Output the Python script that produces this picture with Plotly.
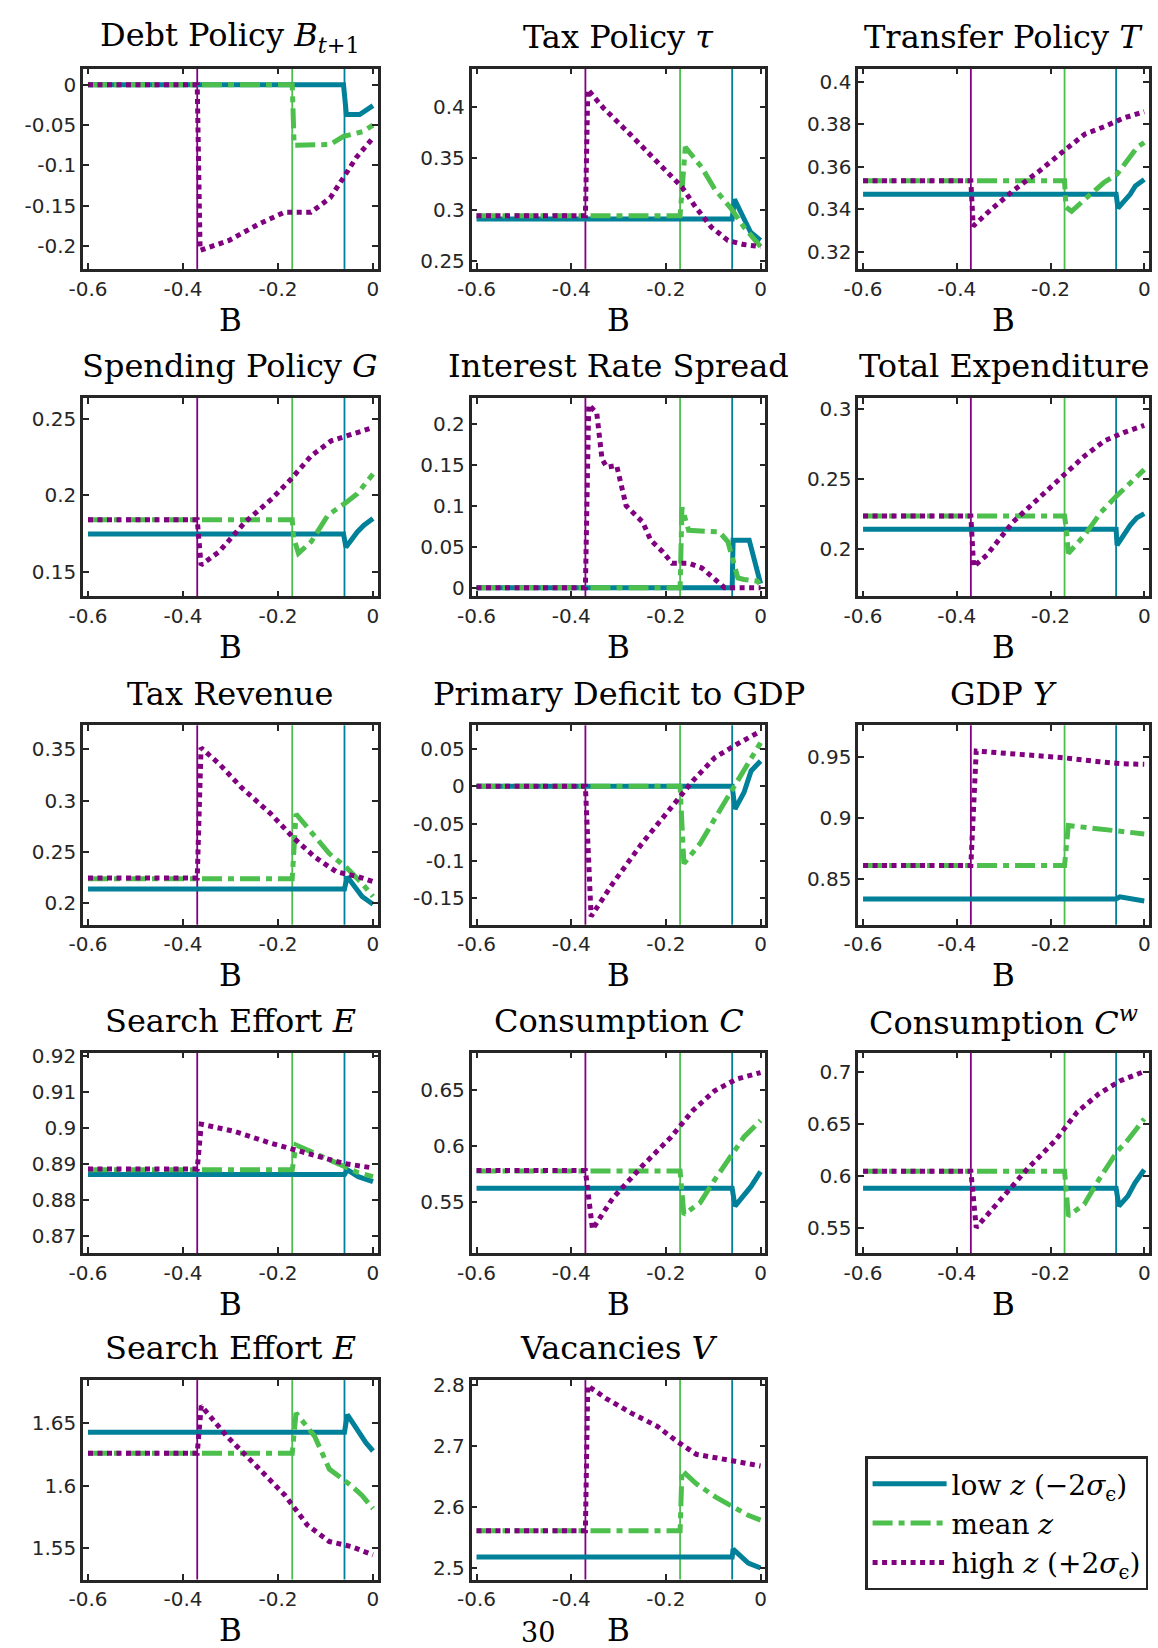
import plotly.graph_objects as go

# ---------------- data ----------------
thresholds = [-0.06, -0.17, -0.37]          # low z, mean z, high z default thresholds

titles = ["Debt Policy <i>B</i><sub><i>t</i>+1</sub>", "Tax Policy <i>τ</i>", "Transfer Policy <i>T</i>",
          "Spending Policy <i>G</i>", "Interest Rate Spread", "Total Expenditure",
          "Tax Revenue", "Primary Deficit to GDP", "GDP <i>Y</i>",
          "Search Effort <i>E</i>", "Consumption <i>C</i>", "Consumption <i>C</i><sup><i>w</i></sup>",
          "Search Effort <i>E</i>", "Vacancies <i>V</i>"]

x_ticks = [-0.6, -0.4, -0.2, 0.0]

# 1 Debt policy
debt_low_B = [-0.6, -0.062, -0.056, -0.028, 0.0]
debt_low = [0, 0, -0.037, -0.037, -0.026]
debt_mean_B = [-0.6, -0.17, -0.166, -0.09, -0.062, -0.021, 0.0]
debt_mean = [0, 0, -0.075, -0.074, -0.064, -0.058, -0.05]
debt_high_B = [-0.6, -0.37, -0.364, -0.304, -0.242, -0.187, -0.131, -0.09, -0.062, -0.035, 0.0]
debt_high = [0, 0, -0.205, -0.193, -0.173, -0.158, -0.158, -0.14, -0.115, -0.09, -0.066]
# 2 Tax policy
tax_low_B = [-0.6, -0.06, -0.055, -0.021, 0.0]
tax_low = [0.291, 0.291, 0.31, 0.278, 0.27]
tax_mean_B = [-0.6, -0.17, -0.159, -0.124, -0.097, -0.062, -0.035, 0.0]
tax_mean = [0.294, 0.294, 0.361, 0.341, 0.32, 0.301, 0.283, 0.264]
tax_high_B = [-0.6, -0.37, -0.365, -0.332, -0.277, -0.221, -0.166, -0.138, -0.104, -0.069, -0.035, 0.0]
tax_high = [0.294, 0.294, 0.417, 0.399, 0.374, 0.348, 0.322, 0.303, 0.283, 0.27, 0.266, 0.264]
# 3 Transfer policy
tr_low_B = [-0.6, -0.06, -0.056, -0.03, -0.019, 0.0]
tr_low = [0.347, 0.347, 0.3405, 0.347, 0.351, 0.354]
tr_mean_B = [-0.6, -0.17, -0.167, -0.155, -0.12, -0.086, -0.058, -0.037, -0.016, 0.0]
tr_mean = [0.3534, 0.3534, 0.341, 0.339, 0.346, 0.3526, 0.3565, 0.3628, 0.369, 0.3715]
tr_high_B = [-0.6, -0.37, -0.365, -0.336, -0.28, -0.224, -0.169, -0.127, -0.085, -0.044, 0.0]
tr_high = [0.3534, 0.3534, 0.332, 0.338, 0.3487, 0.358, 0.368, 0.3754, 0.379, 0.383, 0.386]
# 4 Spending policy
sp_low_B = [-0.6, -0.062, -0.057, -0.033, -0.019, 0.0]
sp_low = [0.1746, 0.1746, 0.166, 0.176, 0.1804, 0.1848]
sp_mean_B = [-0.6, -0.17, -0.167, -0.157, -0.13, -0.095, -0.06, -0.033, 0.0]
sp_mean = [0.1841, 0.1841, 0.172, 0.162, 0.1696, 0.187, 0.1946, 0.2011, 0.2141]
sp_high_B = [-0.6, -0.37, -0.362, -0.324, -0.269, -0.213, -0.172, -0.13, -0.088, -0.046, 0.0]
sp_high = [0.1841, 0.1841, 0.1543, 0.163, 0.1826, 0.1978, 0.2109, 0.2261, 0.2359, 0.2402, 0.2446]
# 5 Interest rate spread
irs_low_B = [-0.6, -0.06, -0.058, -0.024, 0.0]
irs_low = [0, 0, 0.058, 0.058, 0.005]
irs_mean_B = [-0.6, -0.17, -0.166, -0.156, -0.152, -0.087, -0.069, -0.048, -0.035, -0.007, 0.0]
irs_mean = [0, 0, 0.098, 0.076, 0.07, 0.068, 0.056, 0.012, 0.01, 0.008, 0.004]
irs_high_B = [-0.6, -0.37, -0.363, -0.346, -0.335, -0.325, -0.304, -0.284, -0.263, -0.249,
              -0.232, -0.207, -0.187, -0.152, -0.124, -0.097, -0.076, 0.0]
irs_high = [0, 0, 0.223, 0.213, 0.157, 0.147, 0.149, 0.1, 0.088, 0.08,
            0.058, 0.044, 0.03, 0.03, 0.024, 0.01, 0.0, 0.0]
# 6 Total expenditure
te_low_B = [-0.6, -0.06, -0.058, -0.03, -0.016, 0.0]
te_low = [0.2142, 0.2142, 0.2028, 0.217, 0.2223, 0.2254]
te_mean_B = [-0.6, -0.17, -0.166, -0.162, -0.127, -0.092, -0.058, -0.03, 0.0]
te_mean = [0.2237, 0.2237, 0.2135, 0.1969, 0.21, 0.2265, 0.2384, 0.2479, 0.2569]
te_high_B = [-0.6, -0.37, -0.364, -0.336, -0.28, -0.225, -0.169, -0.127, -0.085, -0.044, 0.0]
te_high = [0.2237, 0.2237, 0.1874, 0.1957, 0.2194, 0.236, 0.2538, 0.2668, 0.2775, 0.2834, 0.2886]
# 7 Tax revenue
rev_low_B = [-0.6, -0.06, -0.054, -0.023, 0.0]
rev_low = [0.2139, 0.2139, 0.2258, 0.2065, 0.199]
rev_mean_B = [-0.6, -0.17, -0.162, -0.123, -0.092, -0.054, -0.023, 0.0]
rev_mean = [0.2239, 0.2239, 0.287, 0.2645, 0.2484, 0.2339, 0.2194, 0.2065]
rev_high_B = [-0.6, -0.37, -0.362, -0.323, -0.277, -0.215, -0.169, -0.123, -0.077, -0.031, 0.0]
rev_high = [0.2245, 0.2245, 0.3516, 0.3355, 0.3129, 0.2871, 0.2645, 0.2452, 0.2306, 0.2258, 0.221]
# 8 Primary deficit to GDP
pd_low_B = [-0.6, -0.06, -0.054, -0.035, -0.02, 0.0]
pd_low = [0, 0, -0.0305, -0.0084, 0.0204, 0.0336]
pd_mean_B = [-0.6, -0.17, -0.162, -0.128, -0.097, -0.058, -0.035, 0.0]
pd_mean = [0, 0, -0.1035, -0.077, -0.0438, -0.0018, 0.0204, 0.058]
pd_high_B = [-0.6, -0.37, -0.358, -0.312, -0.251, -0.189, -0.143, -0.097, -0.051, 0.0]
pd_high = [0, 0, -0.1743, -0.13, -0.077, -0.0283, 0.0071, 0.038, 0.0558, 0.0735]
# 9 GDP
gdp_low_B = [-0.6, -0.06, -0.052, 0.0]
gdp_low = [0.8337, 0.8337, 0.8355, 0.832]
gdp_mean_B = [-0.6, -0.17, -0.162, -0.097, -0.051, 0.0]
gdp_mean = [0.8611, 0.8611, 0.8939, 0.8912, 0.89, 0.887]
gdp_high_B = [-0.6, -0.37, -0.3585, -0.266, -0.174, -0.097, -0.051, 0.0]
gdp_high = [0.8611, 0.8611, 0.9549, 0.9522, 0.9495, 0.9462, 0.9446, 0.944]
# 10 Search effort (first)
se1_low_B = [-0.6, -0.06, -0.054, -0.031, 0.0]
se1_low = [0.887, 0.887, 0.8883, 0.8864, 0.885]
se1_mean_B = [-0.6, -0.17, -0.162, -0.108, -0.062, -0.031, 0.0]
se1_mean = [0.8883, 0.8883, 0.8952, 0.892, 0.8892, 0.8875, 0.8864]
se1_high_B = [-0.6, -0.37, -0.3615, -0.292, -0.215, -0.138, -0.062, 0.0]
se1_high = [0.8885, 0.8885, 0.901, 0.899, 0.8957, 0.8929, 0.8901, 0.8888]
# 11 Consumption C
c_low_B = [-0.6, -0.06, -0.054, -0.035, -0.02, 0.0]
c_low = [0.5621, 0.5621, 0.5462, 0.5565, 0.5638, 0.577]
c_mean_B = [-0.6, -0.17, -0.162, -0.128, -0.097, -0.058, -0.035, 0.0]
c_mean = [0.5776, 0.5776, 0.5388, 0.5491, 0.5697, 0.5932, 0.6079, 0.6226]
c_high_B = [-0.6, -0.37, -0.355, -0.312, -0.251, -0.189, -0.143, -0.097, -0.051, 0.0]
c_high = [0.578, 0.578, 0.5256, 0.5535, 0.5815, 0.6079, 0.6315, 0.6491, 0.6594, 0.6653]
# 12 Consumption C^w
cw_low_B = [-0.6, -0.06, -0.054, -0.035, -0.02, 0.0]
cw_low = [0.5883, 0.5883, 0.5713, 0.5808, 0.5934, 0.606]
cw_mean_B = [-0.6, -0.17, -0.162, -0.128, -0.097, -0.058, -0.035, 0.0]
cw_mean = [0.6047, 0.6047, 0.5618, 0.5729, 0.5965, 0.6234, 0.6345, 0.6547]
cw_high_B = [-0.6, -0.37, -0.3585, -0.312, -0.251, -0.189, -0.143, -0.097, -0.051, 0.0]
cw_high = [0.6047, 0.6047, 0.5507, 0.5744, 0.606, 0.6345, 0.6613, 0.6786, 0.6912, 0.70]
# 13 Search effort (second)
se2_low_B = [-0.6, -0.06, -0.054, -0.015, 0.0]
se2_low = [1.6426, 1.6426, 1.6566, 1.6342, 1.6276]
se2_mean_B = [-0.6, -0.17, -0.162, -0.123, -0.092, -0.046, -0.023, 0.0]
se2_mean = [1.6258, 1.6258, 1.6579, 1.6395, 1.6132, 1.6, 1.5921, 1.5816]
se2_high_B = [-0.6, -0.37, -0.3615, -0.308, -0.246, -0.185, -0.138, -0.092, -0.046, 0.0]
se2_high = [1.6258, 1.6258, 1.6637, 1.6395, 1.6158, 1.5921, 1.5684, 1.5553, 1.5513, 1.5447]
# 14 Vacancies
vac_low_B = [-0.6, -0.06, -0.058, -0.026, 0.0]
vac_low = [2.5179, 2.5179, 2.5309, 2.5081, 2.5]
vac_mean_B = [-0.6, -0.17, -0.166, -0.1356, -0.0945, -0.053, -0.026, 0.0]
vac_mean = [2.5613, 2.5613, 2.66, 2.6384, 2.6163, 2.5973, 2.5865, 2.5787]
vac_high_B = [-0.6, -0.37, -0.365, -0.327, -0.273, -0.218, -0.177, -0.1356, -0.0945, -0.053, 0.0]
vac_high = [2.5613, 2.5613, 2.7995, 2.7788, 2.7544, 2.7327, 2.7083, 2.6866, 2.6811, 2.6757, 2.6676]

y_ticks = [[0, -0.05, -0.1, -0.15, -0.2], [0.25, 0.3, 0.35, 0.4], [0.32, 0.34, 0.36, 0.38, 0.4],
           [0.15, 0.2, 0.25], [0, 0.05, 0.1, 0.15, 0.2], [0.2, 0.25, 0.3],
           [0.2, 0.25, 0.3, 0.35], [-0.15, -0.1, -0.05, 0, 0.05], [0.85, 0.9, 0.95],
           [0.87, 0.88, 0.89, 0.9, 0.91, 0.92], [0.55, 0.6, 0.65], [0.55, 0.6, 0.65, 0.7],
           [1.55, 1.6, 1.65], [2.5, 2.6, 2.7, 2.8]]
y_ranges = [[-0.228, 0.02], [0.2423, 0.4374], [0.3118, 0.4064], [0.1337, 0.2641],
            [-0.0105, 0.2315], [0.1661, 0.3083], [0.179, 0.3735], [-0.1854, 0.0814],
            [0.8126, 0.976], [0.8651, 0.9209], [0.5044, 0.683], [0.5263, 0.718],
            [1.525, 1.6842], [2.481, 2.8087]]
x_range = [-0.6104, 0.0104]

series_names = ["low <i>z</i> (−2<i>σ</i><sub>ϵ</sub>)", "mean <i>z</i>",
                "high <i>z</i> (+2<i>σ</i><sub>ϵ</sub>)"]

panels = [
    [(debt_low_B, debt_low), (debt_mean_B, debt_mean), (debt_high_B, debt_high)],
    [(tax_low_B, tax_low), (tax_mean_B, tax_mean), (tax_high_B, tax_high)],
    [(tr_low_B, tr_low), (tr_mean_B, tr_mean), (tr_high_B, tr_high)],
    [(sp_low_B, sp_low), (sp_mean_B, sp_mean), (sp_high_B, sp_high)],
    [(irs_low_B, irs_low), (irs_mean_B, irs_mean), (irs_high_B, irs_high)],
    [(te_low_B, te_low), (te_mean_B, te_mean), (te_high_B, te_high)],
    [(rev_low_B, rev_low), (rev_mean_B, rev_mean), (rev_high_B, rev_high)],
    [(pd_low_B, pd_low), (pd_mean_B, pd_mean), (pd_high_B, pd_high)],
    [(gdp_low_B, gdp_low), (gdp_mean_B, gdp_mean), (gdp_high_B, gdp_high)],
    [(se1_low_B, se1_low), (se1_mean_B, se1_mean), (se1_high_B, se1_high)],
    [(c_low_B, c_low), (c_mean_B, c_mean), (c_high_B, c_high)],
    [(cw_low_B, cw_low), (cw_mean_B, cw_mean), (cw_high_B, cw_high)],
    [(se2_low_B, se2_low), (se2_mean_B, se2_mean), (se2_high_B, se2_high)],
    [(vac_low_B, vac_low), (vac_mean_B, vac_mean), (vac_high_B, vac_high)],
]

# ---------------- style / layout ----------------
W, H = 1158, 1648
colors = ["rgb(0,128,153)", "rgb(77,191,77)", "rgb(128,0,128)"]
dashes = ["solid", "20px,6px,6px,6px", "5px,4.5px"]
widths = [5, 5, 5]
col_left = [69, 463, 855]
col_right = [368, 761, 1150]
row_top = [60, 392, 722, 1052, 1382]
row_bot = [262, 592, 923, 1254, 1583]
axis_col = "#262626"
tick_font = dict(family="DejaVu Sans", size=20, color=axis_col)
serif = "DejaVu Serif"


def fmt(v):
    return f"{v:g}"


fig = go.Figure()
layout = dict(width=W, height=H, autosize=False, margin=dict(l=0, r=0, t=0, b=0),
              paper_bgcolor="white", plot_bgcolor="white", showlegend=True)
annotations = []
shapes = []

for i, series in enumerate(panels):
    r, c = divmod(i, 3)
    n = i + 1
    xa = "x" if n == 1 else f"x{n}"
    ya = "y" if n == 1 else f"y{n}"
    for k, (bx, by) in enumerate(series):
        fig.add_trace(go.Scatter(
            x=bx, y=by, mode="lines", xaxis=xa, yaxis=ya,
            name=series_names[k], legendgroup=f"g{k}", showlegend=(i == 0),
            line=dict(color=colors[k], width=widths[k], dash=dashes[k])))
    for k, t in enumerate(thresholds):
        shapes.append(dict(type="line", xref=xa, yref=f"{ya} domain", x0=t, x1=t, y0=0, y1=1,
                           line=dict(color=colors[k], width=1.8), layer="below"))
    xd = [col_left[c] / W, col_right[c] / W]
    yd = [1 - row_bot[r] / H, 1 - row_top[r] / H]
    common = dict(showline=True, linecolor=axis_col, linewidth=2.5, mirror="ticks",
                  ticks="inside", ticklen=6, tickwidth=1.5, tickcolor=axis_col,
                  showgrid=False, zeroline=False, tickfont=tick_font)
    key = "" if n == 1 else str(n)
    layout["xaxis" + key] = dict(domain=xd, anchor=ya, range=x_range, tickvals=x_ticks,
                                 ticktext=[fmt(v) for v in x_ticks], **common)
    layout["yaxis" + key] = dict(domain=yd, anchor=xa, range=y_ranges[i], tickvals=y_ticks[i],
                                 ticktext=[fmt(v) for v in y_ticks[i]], **common)
    cx = (col_left[c] + col_right[c]) / 2 / W
    annotations.append(dict(text=titles[i], xref="paper", yref="paper", x=cx,
                            y=1 - (row_top[r] - 32) / H, xanchor="center", yanchor="middle",
                            showarrow=False, font=dict(family=serif, size=32, color="black")))
    annotations.append(dict(text="B", xref="paper", yref="paper", x=cx,
                            y=1 - (row_bot[r] + 51) / H, xanchor="center", yanchor="middle",
                            showarrow=False, font=dict(family=serif, size=31, color="black")))

annotations.append(dict(text="30", xref="paper", yref="paper", x=530 / W, y=1 - 1636 / H,
                        xanchor="center", yanchor="middle", showarrow=False,
                        font=dict(family=serif, size=27, color="black")))

layout["annotations"] = annotations
layout["shapes"] = shapes
layout["legend"] = dict(x=862 / W, y=1 - 1459 / H, xanchor="left", yanchor="top",
                        bordercolor="#262626", borderwidth=2.5, bgcolor="white",
                        font=dict(family=serif, size=28, color="black"),
                        itemwidth=74, tracegroupgap=0)
fig.update_layout(**layout)
fig.write_html("out.html", config={"displayModeBar": False},
               post_script="document.body.style.margin='0';document.body.style.overflow='hidden';")
